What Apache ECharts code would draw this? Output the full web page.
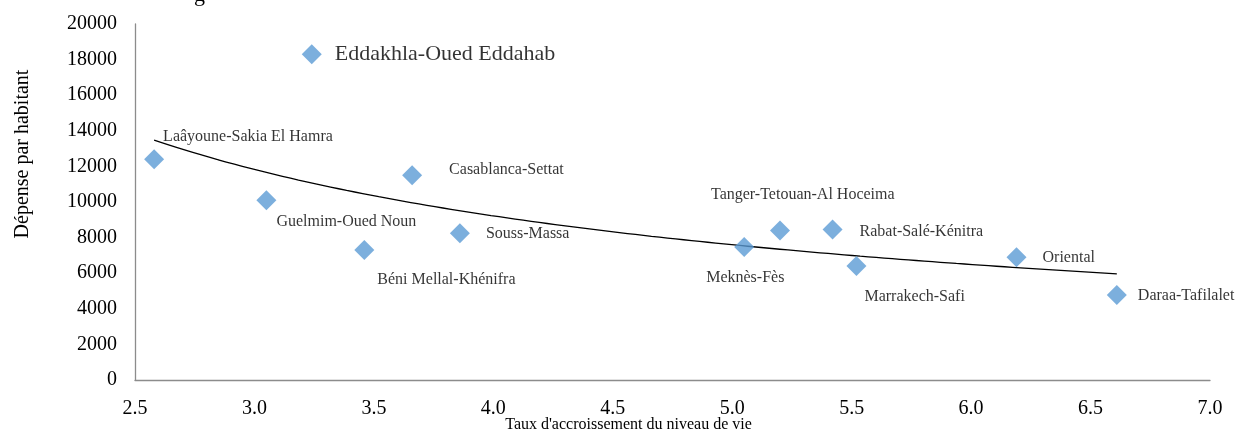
<!DOCTYPE html>
<html>
<head>
<meta charset="utf-8">
<script src="https://cdn.jsdelivr.net/npm/echarts@6/dist/echarts.min.js"></script>
<style>
  html, body { margin: 0; padding: 0; background: #fff; }
  #chart { width: 1252px; height: 434px; }
</style>
</head>
<body>
<div id="chart"></div>
<script>
var regions = ['Eddakhla-Oued Eddahab', 'Laâyoune-Sakia El Hamra', 'Guelmim-Oued Noun', 'Béni Mellal-Khénifra',
  'Casablanca-Settat', 'Souss-Massa', 'Meknès-Fès', 'Tanger-Tetouan-Al Hoceima', 'Rabat-Salé-Kénitra',
  'Marrakech-Safi', 'Oriental', 'Daraa-Tafilalet'];
var croissance = [3.24, 2.58, 3.05, 3.46, 3.66, 3.86, 5.05, 5.20, 5.42, 5.52, 6.19, 6.61];
var depense = [18300, 12400, 10100, 7300, 11500, 8250, 7470, 8400, 8450, 6400, 6900, 4780];
// label offsets from the marker centre
var labelDx = [23, 9, 10, 13, 37, 26, -38, -69, 27, 8, 26, 21];
var labelDy = [0, -22, 22, 30, -6, 1, 31, -36, 2, 31, 1, 1];

// power trendline (like Excel): ln y = ln a + b ln x
var lx = croissance.map(Math.log), ly = depense.map(Math.log);
var mx = lx.reduce(function(s, v){ return s + v; }, 0) / lx.length;
var my = ly.reduce(function(s, v){ return s + v; }, 0) / ly.length;
var sxy = 0, sxx = 0;
for (var i = 0; i < lx.length; i++) { sxy += (lx[i] - mx) * (ly[i] - my); sxx += (lx[i] - mx) * (lx[i] - mx); }
var b = sxy / sxx, a = Math.exp(my - b * mx);
var xMin = Math.min.apply(null, croissance), xMax = Math.max.apply(null, croissance);
var trend = [];
for (var k = 0; k <= 60; k++) {
  var x = xMin + (xMax - xMin) * k / 60;
  trend.push([x, a * Math.pow(x, b)]);
}

var points = regions.map(function(name, i){
  return {
    name: name,
    value: [croissance[i], depense[i]],
    label: {
      offset: [labelDx[i], labelDy[i]],
      fontSize: i === 0 ? 22 : 16
    }
  };
});

var myChart = echarts.init(document.getElementById('chart'));
var font = 'Liberation Serif, Times New Roman, serif';
var option = {
  backgroundColor: '#fff',
  animation: false,
  textStyle: { fontFamily: font, color: '#000' },
  graphic: [{
    type: 'text', left: 194, top: -16,
    style: { text: 'g', font: '22px ' + font, fill: '#000' }
  }],
  grid: { left: 135, right: 42, top: 24, bottom: 54, containLabel: false, outerBoundsMode: 'none' },
  xAxis: {
    type: 'value', min: 2.5, max: 7.0, interval: 0.5,
    name: "Taux d'accroissement du niveau de vie",
    nameLocation: 'middle', nameGap: 37, nameMoveOverlap: false,
    nameTextStyle: { fontFamily: font, fontSize: 16, color: '#000', padding: [0, 88, 0, 0] },
    axisLine: { show: true, onZero: false, lineStyle: { color: '#8c8c8c', width: 1.3 } },
    axisTick: { show: false },
    splitLine: { show: false },
    axisLabel: { fontFamily: font, fontSize: 20, color: '#000', margin: 19,
      formatter: function(v){ return v.toFixed(1); } }
  },
  yAxis: {
    type: 'value', min: 0, max: 20000, interval: 2000,
    name: 'Dépense par habitant',
    nameLocation: 'middle', nameGap: 102, nameRotate: 90, nameMoveOverlap: false,
    nameTextStyle: { fontFamily: font, fontSize: 20, color: '#000', padding: [0, 0, 0, 96] },
    axisLine: { show: true, lineStyle: { color: '#8c8c8c', width: 1.3 } },
    axisTick: { show: false },
    splitLine: { show: false },
    axisLabel: { fontFamily: font, fontSize: 20, color: '#000', margin: 18,
      formatter: function(v){ return String(v); } }
  },
  series: [
    {
      type: 'line',
      data: trend,
      showSymbol: false,
      smooth: true,
      lineStyle: { color: '#000', width: 1.3 },
      z: 1
    },
    {
      type: 'scatter',
      data: points,
      symbol: 'diamond',
      symbolSize: 20,
      itemStyle: { color: '#5b9bd5' },
      label: {
        show: true,
        position: 'inside',
        align: 'left',
        verticalAlign: 'middle',
        color: '#000',
        fontFamily: font,
        formatter: '{b}'
      },
      z: 2
    }
  ]
};
myChart.setOption(option);
</script>
</body>
</html>
